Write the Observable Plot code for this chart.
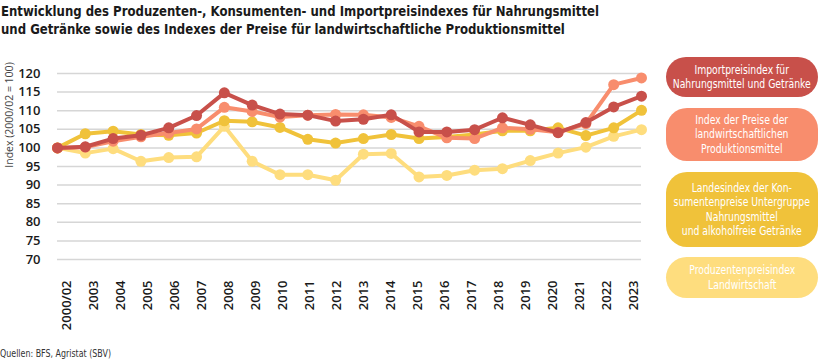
<!DOCTYPE html>
<html><head><meta charset="utf-8">
<script src="https://cdn.jsdelivr.net/npm/d3@7"></script>
<script src="https://cdn.jsdelivr.net/npm/@observablehq/plot@0.6"></script>
<style>
body{margin:0;background:#fff;}
#wrap{position:relative;width:836px;height:364px;overflow:hidden;font-family:"DejaVu Sans Condensed","DejaVu Sans",sans-serif;}
#title{position:absolute;left:1px;top:2px;font-weight:bold;font-size:14.5px;line-height:18px;color:#1a1a1a;white-space:nowrap;transform-origin:left top;}
#title span{display:inline-block;}
#chart, #xaxis{position:absolute;left:0;top:0;}
#ylabel{position:absolute;left:9px;top:115px;transform:translate(-50%,-50%) rotate(-90deg);white-space:nowrap;font-size:10.5px;color:#444;font-family:"Open Sans",sans-serif;}
.leg{position:absolute;left:666px;width:152px;border-radius:21px;color:#fff;text-align:center;font-size:12.5px;line-height:14.2px;display:flex;align-items:center;justify-content:center;white-space:nowrap;}
.leg span{display:inline-block;transform-origin:center center;}
#caption{position:absolute;left:0;top:347px;font-size:10.5px;color:#333;white-space:nowrap;transform-origin:left top;}
</style></head>
<body>
<div id="wrap">
  <div id="xaxis"></div>
  <div id="chart"></div>
  <div id="title"><span id="t1">Entwicklung des Produzenten-, Konsumenten- und Importpreisindexes für Nahrungsmittel</span><br><span id="t2">und Getränke sowie des Indexes der Preise für landwirtschaftliche Produktionsmittel</span></div>
  <div id="ylabel">Index (2000/02 = 100)</div>
  <div id="legend"></div>
  <div id="caption">Quellen: BFS, Agristat (SBV)</div>
</div>
<script>
const years = ["2000/02","2003","2004","2005","2006","2007","2008","2009","2010","2011","2012","2013","2014","2015","2016","2017","2018","2019","2020","2021","2022","2023"];
const importIndex = [100, 100.3, 102.5, 103.4, 105.4, 108.7, 114.8, 111.5, 109.1, 108.8, 107.2, 107.7, 108.9, 104.3, 104.3, 104.9, 108.1, 106.2, 104.1, 106.8, 111.0, 113.9];
const inputPrices = [100, 100.2, 101.8, 103.0, 104.0, 105.1, 110.9, 109.8, 108.3, 108.8, 109.0, 108.9, 108.2, 105.8, 102.7, 102.5, 105.4, 105.0, 104.2, 106.5, 117.0, 118.8];
const consumerFood = [100, 103.8, 104.5, 103.6, 103.4, 104.0, 107.3, 107.0, 105.5, 102.3, 101.3, 102.5, 103.6, 102.5, 102.9, 103.6, 104.6, 104.6, 105.4, 103.3, 105.4, 110.1];
const producerAgri = [100, 98.6, 99.8, 96.4, 97.4, 97.6, 105.8, 96.4, 92.8, 92.8, 91.3, 98.3, 98.5, 92.2, 92.6, 94.0, 94.4, 96.6, 98.6, 100.2, 103.1, 104.9];
const yTicks = [70, 75, 80, 85, 90, 95, 100, 105, 110, 115, 120];

const seriesNames = [
  "Importpreisindex für\nNahrungsmittel und Getränke",
  "Index der Preise der\nlandwirtschaftlichen\nProduktionsmittel",
  "Landesindex der Kon-\nsumentenpreise Untergruppe\nNahrungsmittel\nund alkoholfreie Getränke",
  "Produzentenpreisindex\nLandwirtschaft"
];
const seriesColors = ["#c8504a", "#f88d6d", "#f0c23a", "#fedd7e"];
const seriesValues = [importIndex, inputPrices, consumerFood, producerAgri];

const drawOrder = [3, 2, 1, 0];
const seriesMarks = [];
for (const k of drawOrder) {
  const rows = years.map((y, i) => ({year: y, value: seriesValues[k][i]}));
  seriesMarks.push(Plot.line(rows, {x: "year", y: "value", stroke: seriesColors[k], strokeWidth: 4, strokeLinejoin: "round"}));
  seriesMarks.push(Plot.dot(rows, {x: "year", y: "value", fill: seriesColors[k], r: 5.5}));
}

const common = {
  width: 836, height: 364,
  marginLeft: 57, marginRight: 195, marginTop: 73, marginBottom: 105,
  y: {domain: [70, 120], label: null},
  style: {fontFamily: "'Open Sans', sans-serif", fontSize: "13px", color: "#1a1a1a", background: "transparent", overflow: "visible"}
};

const chart = Plot.plot({
  ...common,
  x: {type: "point", domain: years, padding: 0, round: false, label: null, axis: null},
  marks: [
    Plot.gridY({ticks: yTicks, stroke: "#d6d6d6", strokeOpacity: 1, strokeWidth: 1.5}),
    Plot.axisY({ticks: yTicks, tickSize: 0, tickPadding: 17, fontWeight: 600, label: null}),
    ...seriesMarks
  ]
});
document.getElementById("chart").appendChild(chart);

// category labels, laid out on a rounded point scale as in the original
const xAxisChart = Plot.plot({
  ...common,
  x: {type: "point", domain: years, padding: 0, round: true, label: null},
  y: {domain: [70, 120], label: null, axis: null},
  marks: [
    Plot.axisX({tickSize: 0, tickRotate: -90, tickPadding: 21, fontWeight: 600, label: null})
  ]
});
document.getElementById("xaxis").appendChild(xAxisChart);

const boxes = [
  {top: 57, h: 40},
  {top: 108, h: 53},
  {top: 172, h: 75},
  {top: 257, h: 41}
];
const leg = document.getElementById("legend");
const spans = [];
seriesNames.forEach((name, i) => {
  const d = document.createElement("div");
  d.className = "leg";
  d.style.top = boxes[i].top + "px";
  d.style.height = boxes[i].h + "px";
  d.style.background = seriesColors[i];
  const s = document.createElement("span");
  s.innerHTML = name.split("\n").join("<br>");
  d.appendChild(s);
  leg.appendChild(d);
  spans.push(s);
});
const legScale = 138 / spans[0].getBoundingClientRect().width;
spans.forEach(s => s.style.transform = `scaleX(${legScale})`);
const t1w = document.getElementById("t1").getBoundingClientRect().width;
document.getElementById("title").style.transform = `scaleX(${598 / t1w})`;
const cap = document.getElementById("caption");
cap.style.display = "inline-block";
cap.style.transform = `scaleX(${111 / cap.getBoundingClientRect().width})`;
</script>
</body></html>
